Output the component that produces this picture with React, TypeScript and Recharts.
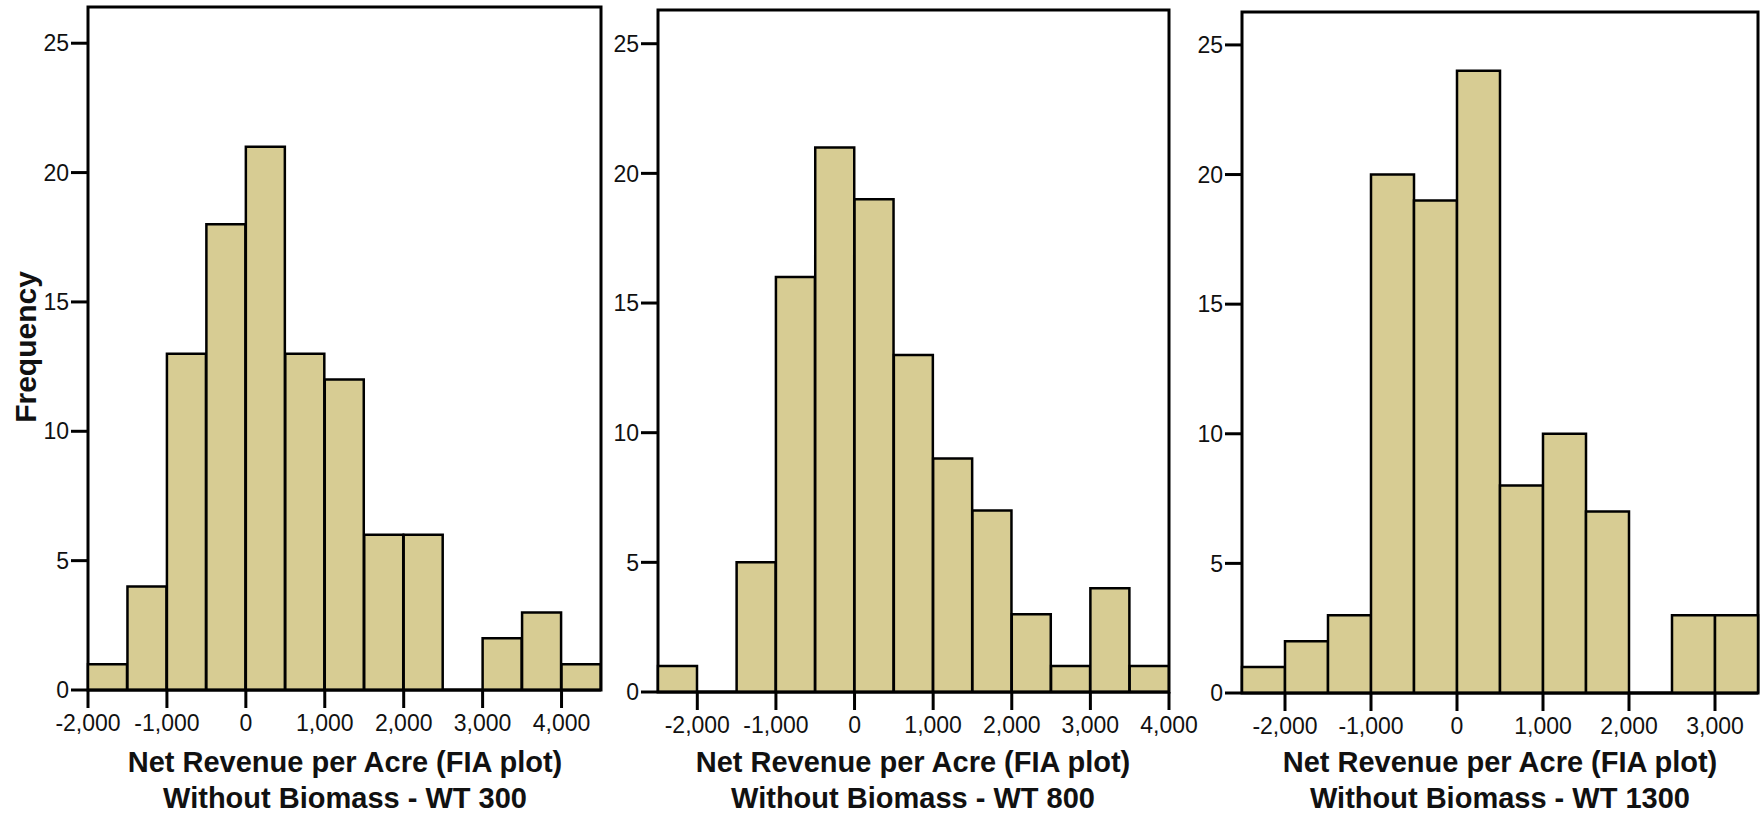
import { ComposedChart, Bar, XAxis, YAxis, ReferenceArea } from "recharts";

const FILL = "#d7cc93";
const FONT = "'Liberation Sans', Arial, sans-serif";

// bin starts (width 500) and frequencies for each panel
const wt300Bins = [-2000, -1500, -1000, -500, 0, 500, 1000, 1500, 2000, 2500, 3000, 3500, 4000];
const wt300Counts = [1, 4, 13, 18, 21, 13, 12, 6, 6, 0, 2, 3, 1];
const wt300Ticks = [-2000, -1000, 0, 1000, 2000, 3000, 4000];

const wt800Bins = [-2500, -2000, -1500, -1000, -500, 0, 500, 1000, 1500, 2000, 2500, 3000, 3500];
const wt800Counts = [1, 0, 5, 16, 21, 19, 13, 9, 7, 3, 1, 4, 1];
const wt800Ticks = [-2000, -1000, 0, 1000, 2000, 3000, 4000];

const wt1300Bins = [-2500, -2000, -1500, -1000, -500, 0, 500, 1000, 1500, 2000, 2500, 3000];
const wt1300Counts = [1, 2, 3, 20, 19, 24, 8, 10, 7, 0, 3, 3];
const wt1300Ticks = [-2000, -1000, 0, 1000, 2000, 3000];

const freqTicks = [0, 5, 10, 15, 20, 25];

const BIN = 500;
const YAXIS_W = 88;
const XAXIS_H = 50;

interface PanelProps {
  bins: number[];
  counts: number[];
  ticks: number[];
  plotLeft: number;
  plotRight: number;
  plotTop: number;
  plotBottom: number;
  yMax: number;
}

function Panel({ bins, counts, ticks, plotLeft, plotRight, plotTop, plotBottom, yMax }: PanelProps) {
  const data = bins.map((start, i) => ({ start, count: counts[i] }));
  const xMin = bins[0];
  const xMax = bins[bins.length - 1] + BIN;
  const width = plotRight - plotLeft + YAXIS_W + 30;
  const height = plotBottom + XAXIS_H;
  const tickStyle = { fontFamily: FONT, fontSize: 23, fill: "#111" };

  return (
    <div style={{ position: "absolute", left: plotLeft - YAXIS_W, top: 0 }}>
      <ComposedChart
        width={width}
        height={height}
        data={data}
        margin={{ top: plotTop, right: 30, left: 0, bottom: 0 }}
        barCategoryGap={0}
        barGap={0}
        style={{ overflow: "visible" }}
      >
        <XAxis xAxisId="bins" dataKey="start" type="category" orientation="top" height={0} hide />
        <XAxis
          xAxisId="val"
          dataKey="start"
          type="number"
          domain={[xMin, xMax]}
          allowDataOverflow
          ticks={ticks}
          interval={0}
          height={XAXIS_H}
          tickFormatter={(v: number) => v.toLocaleString("en-US")}
          tick={tickStyle}
          tickSize={18}
          tickMargin={7}
          tickLine={{ stroke: "#000", strokeWidth: 3 }}
          axisLine={{ stroke: "#000", strokeWidth: 3 }}
        />
        <YAxis
          type="number"
          domain={[0, yMax]}
          allowDataOverflow
          ticks={freqTicks}
          interval={0}
          width={YAXIS_W}
          tick={tickStyle}
          tickSize={17}
          tickMargin={2}
          tickLine={{ stroke: "#000", strokeWidth: 3 }}
          axisLine={false}
        />
        <Bar
          xAxisId="bins"
          dataKey="count"
          fill={FILL}
          stroke="#000"
          strokeWidth={2.5}
          isAnimationActive={false}
        />
        <ReferenceArea
          xAxisId="val"
          x1={xMin}
          x2={xMax}
          y1={0}
          y2={yMax}
          fill="none"
          fillOpacity={0}
          stroke="#000"
          strokeWidth={3}
        />
      </ComposedChart>
    </div>
  );
}

const titles = [
  { cx: 345, sub: "Without Biomass - WT 300" },
  { cx: 913, sub: "Without Biomass - WT 800" },
  { cx: 1500, sub: "Without Biomass - WT 1300" },
];

export default function App() {
  return (
    <div style={{ position: "absolute", left: 0, top: 0, width: 1764, height: 817, background: "#fff", overflow: "hidden" }}>
      <Panel bins={wt300Bins} counts={wt300Counts} ticks={wt300Ticks} plotLeft={88} plotRight={601} plotTop={7} plotBottom={690} yMax={26.4} />
      <Panel bins={wt800Bins} counts={wt800Counts} ticks={wt800Ticks} plotLeft={658} plotRight={1169} plotTop={10} plotBottom={692} yMax={26.3} />
      <Panel bins={wt1300Bins} counts={wt1300Counts} ticks={wt1300Ticks} plotLeft={1242} plotRight={1758} plotTop={12} plotBottom={693} yMax={26.27} />
      <svg width={1764} height={817} style={{ position: "absolute", left: 0, top: 0, pointerEvents: "none" }}>
        <text
          x={0}
          y={0}
          transform="translate(36 347) rotate(-90)"
          textAnchor="middle"
          fontFamily={FONT}
          fontWeight="bold"
          fontSize={30}
          fill="#111"
        >
          Frequency
        </text>
        {titles.map((t) => (
          <g key={t.sub} fontFamily={FONT} fontWeight="bold" fontSize={29} fill="#111" textAnchor="middle">
            <text x={t.cx} y={772}>Net Revenue per Acre (FIA plot)</text>
            <text x={t.cx} y={808}>{t.sub}</text>
          </g>
        ))}
      </svg>
    </div>
  );
}
